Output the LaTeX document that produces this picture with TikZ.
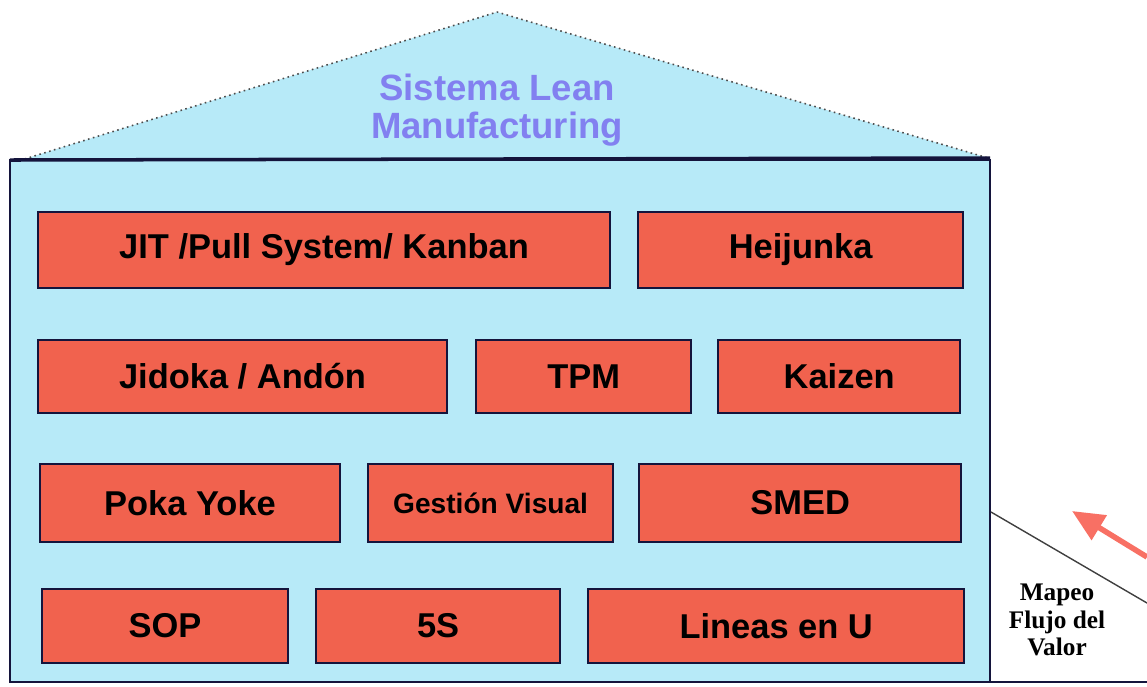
\documentclass[tikz,border=0pt]{standalone}
\usepackage{fontspec}
\setmainfont{Liberation Sans}
\newfontfamily\mapeofont{Liberation Serif}
\usepackage{tikz}
\usetikzlibrary{positioning, arrows.meta}
\definecolor{housefill}{RGB}{183,234,248}
\definecolor{boxred}{RGB}{241,98,78}
\definecolor{leanblue}{RGB}{130,128,240}
\definecolor{arrowred}{RGB}{248,112,100}
\definecolor{edgenavy}{RGB}{20,20,60}

\begin{document}
\begin{tikzpicture}[
    pillar/.style={rectangle, draw=edgenavy, line width=0.6pt, fill=boxred, minimum height=0.76cm, inner sep=0pt, font=\bfseries\fontsize{9.8}{11}\selectfont},
    title/.style={align=center, text=leanblue, font=\bfseries\fontsize{10.4}{11}\selectfont},
    note/.style={align=center, font=\mapeofont\bfseries\fontsize{7.2}{7.8}\selectfont},
    arrow/.style={-{Triangle[length=0.32cm, width=0.28cm]}, line width=0.055cm, draw=arrowred, fill=arrowred}
]
    \useasboundingbox (0,0) rectangle (11.47,-6.86);

    % House: roof and body
    \draw[fill=housefill, draw=black!70, line width=0.45pt, densely dotted] (0.15,-1.62) -- (4.97,-0.12) -- (9.88,-1.58) -- cycle;
    \draw[fill=housefill, draw=edgenavy, line width=0.6pt] (0.10,-1.60) rectangle (9.90,-6.82);
    \draw[edgenavy, line width=1pt] (0.10,-1.60) -- (9.90,-1.58);
    \node[title] (lean) at (4.97,-1.10) {Sistema Lean\\Manufacturing};

    % Row 1
    \node[pillar, minimum width=5.72cm] (jit) at (3.24,-2.50) {JIT /Pull System/ Kanban};
    \node[pillar, minimum width=3.25cm, right=0.26cm of jit] (heijunka) {Heijunka};

    % Row 2
    \node[pillar, minimum width=4.09cm, minimum height=0.73cm] (jidoka) at (2.425,-3.765) {Jidoka / Andón};
    \node[pillar, minimum width=2.15cm, minimum height=0.73cm, right=0.27cm of jidoka] (tpm) {TPM};
    \node[pillar, minimum width=2.42cm, minimum height=0.73cm, right=0.25cm of tpm] (kaizen) {Kaizen};

    % Row 3
    \node[pillar, minimum width=3.00cm, minimum height=0.78cm] (poka) at (1.90,-5.03) {Poka Yoke};
    \node[pillar, minimum width=2.45cm, minimum height=0.78cm, right=0.26cm of poka, font=\bfseries\fontsize{8}{9}\selectfont] (gestion) {Gestión Visual};
    \node[pillar, minimum width=3.22cm, minimum height=0.78cm, right=0.24cm of gestion] (smed) {SMED};

    % Row 4
    \node[pillar, minimum width=2.46cm, minimum height=0.74cm] (sop) at (1.65,-6.26) {SOP};
    \node[pillar, minimum width=2.44cm, minimum height=0.74cm, right=0.26cm of sop] (fives) {5S};
    \node[pillar, minimum width=3.76cm, minimum height=0.74cm, right=0.26cm of fives] (lineas) {Lineas en U};

    % Value stream corner
    \draw[black!75, line width=0.4pt] (9.91,-5.12) -- (11.47,-6.03);
    \draw[edgenavy, line width=0.6pt] (9.90,-6.82) -- (11.47,-6.82);
    \node[note] (mapeo) at (10.57,-6.20) {Mapeo\\Flujo del\\Valor};

    % Red arrow
    \coordinate (arrowtail) at (11.47,-5.57);
    \coordinate (arrowtip) at (10.72,-5.11);
    \draw[arrow] (arrowtail) -- (arrowtip);

\end{tikzpicture}
\end{document}
